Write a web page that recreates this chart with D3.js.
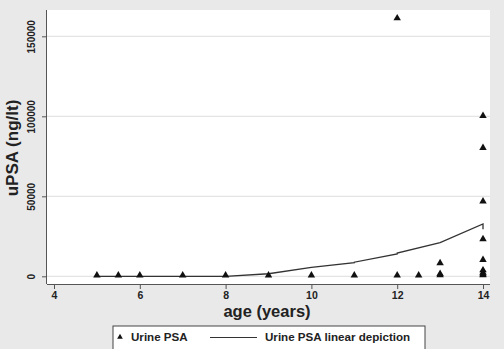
<!DOCTYPE html>
<html>
<head>
<meta charset="utf-8">
<script src="https://cdn.jsdelivr.net/npm/d3@7"></script>
<style>
  body { margin: 0; background: #e9e9e9; }
  svg { display: block; font-family: "Liberation Sans", Arial, sans-serif; }
</style>
</head>
<body>
<script>
const w = 504, h = 349;

// scatter: age (years), uPSA (ng/lt)
const ages = [5, 5.5, 6, 7, 8, 9, 10, 11, 12, 12, 12.5, 13, 13, 13, 14, 14, 14, 14, 14, 14, 14, 14, 14];
const psa  = [300, 300, 300, 300, 300, 300, 300, 300, 161000, 300, 300, 8000, 1200, 400, 100000, 80000, 46500, 23000, 10000, 3500, 2000, 1000, 400];

// linear depiction
const lineAges = [5, 5.5, 6, 7, 8, 9, 10, 11, 11, 12, 12, 13, 14, 14];
const lineVals = [0, 0, 0, 0, 0, 1600, 5600, 8500, 8800, 14000, 14500, 21000, 32700, 29400];

const xTicks = [4, 6, 8, 10, 12, 14];
const yTicks = [0, 50000, 100000, 150000];

const plot = {l: 47, r: 490, t: 10, b: 284};

const x = d3.scaleLinear().domain([4, 14]).range([54, 483]);
const y = d3.scaleLinear().domain([0, 150000]).range([276.3, 36.3]);

const svg = d3.select('body').append('svg').attr('width', w).attr('height', h);

svg.append('rect').attr('width', w).attr('height', h).attr('fill', '#e9e9e9');

// plot area
svg.append('rect')
  .attr('x', plot.l).attr('y', plot.t)
  .attr('width', plot.r - plot.l).attr('height', plot.b - plot.t)
  .attr('fill', '#fff');

// grid
svg.append('g').selectAll('line')
  .data(yTicks)
  .enter().append('line')
  .attr('x1', plot.l).attr('x2', plot.r)
  .attr('y1', d => y(d)).attr('y2', d => y(d))
  .attr('stroke', '#e4e4e4').attr('stroke-width', 1.2);

// x axis
const xAxis = svg.append('g')
  .attr('transform', 'translate(0,' + plot.b + ')')
  .call(d3.axisBottom(x).tickValues(xTicks).tickSize(5).tickPadding(3).tickFormat(d3.format('d')));
xAxis.select('.domain').attr('d', 'M' + plot.l + ',0.5H' + plot.r).attr('stroke', '#555');
xAxis.selectAll('.tick line').attr('stroke', '#555');
xAxis.selectAll('text').attr('font-size', 10.5).attr('font-weight', 'bold').attr('fill', '#222')
  .attr('font-family', '"Liberation Sans", Arial, sans-serif');

// y axis
const yAxis = svg.append('g')
  .attr('transform', 'translate(' + plot.l + ',0)')
  .call(d3.axisLeft(y).tickValues(yTicks).tickSize(5).tickPadding(3).tickFormat(d3.format('d')));
yAxis.select('.domain').attr('d', 'M-0.5,' + plot.t + 'V' + plot.b).attr('stroke', '#555');
yAxis.selectAll('.tick line').attr('stroke', '#555');
yAxis.selectAll('text')
  .attr('font-size', 10).attr('font-weight', 'bold').attr('fill', '#222')
  .attr('font-family', '"Liberation Sans", Arial, sans-serif')
  .attr('text-anchor', 'middle').attr('x', 0).attr('dy', 0)
  .attr('transform', 'translate(-12,0) rotate(-90)');

// line
const line = d3.line().x((d, i) => x(lineAges[i])).y(d => y(d));
svg.append('path')
  .attr('d', line(lineVals))
  .attr('fill', 'none').attr('stroke', '#333').attr('stroke-width', 1.3);

// triangles
const tri = d3.symbol().type(d3.symbolTriangle).size(24);
svg.append('g').selectAll('path')
  .data(psa)
  .enter().append('path')
  .attr('d', tri)
  .attr('transform', (d, i) => 'translate(' + x(ages[i]) + ',' + (y(d) - 0.5) + ')')
  .attr('fill', '#111');

// axis titles
svg.append('text')
  .attr('x', 267).attr('y', 317)
  .attr('text-anchor', 'middle')
  .attr('font-size', 16.5).attr('font-weight', 'bold').attr('fill', '#222')
  .text('age (years)');

svg.append('text')
  .attr('transform', 'translate(18,' + 148 + ') rotate(-90)')
  .attr('text-anchor', 'middle')
  .attr('font-size', 17).attr('font-weight', 'bold').attr('fill', '#222')
  .text('uPSA (ng/lt)');

// legend
const legend = svg.append('g');
legend.append('rect')
  .attr('x', 113).attr('y', 326).attr('width', 312).attr('height', 30)
  .attr('fill', '#fff').attr('stroke', '#444').attr('stroke-width', 1);
legend.append('path')
  .attr('d', d3.symbol().type(d3.symbolTriangle).size(14))
  .attr('transform', 'translate(120,337)').attr('fill', '#111');
legend.append('text').attr('x', 131).attr('y', 341)
  .attr('font-size', 11.6).attr('font-weight', 'bold').attr('fill', '#222').text('Urine PSA');
legend.append('line').attr('x1', 210).attr('x2', 257).attr('y1', 337.5).attr('y2', 337.5)
  .attr('stroke', '#333').attr('stroke-width', 1.2);
legend.append('text').attr('x', 265).attr('y', 341)
  .attr('font-size', 11.6).attr('font-weight', 'bold').attr('fill', '#222').text('Urine PSA linear depiction');
</script>
</body>
</html>
